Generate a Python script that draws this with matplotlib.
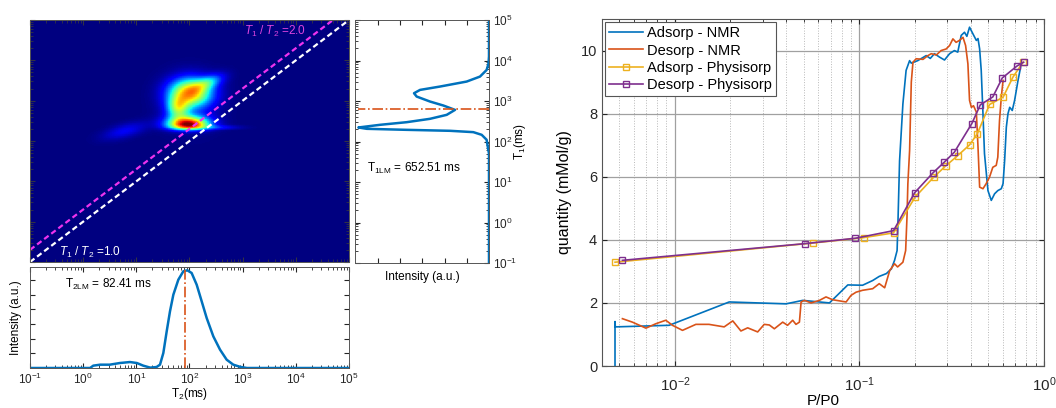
import numpy as np
import matplotlib.pyplot as plt
from matplotlib.ticker import LogLocator, NullFormatter

plt.rcParams['font.family'] = ['Liberation Sans', 'DejaVu Sans']
plt.rcParams['mathtext.fontset'] = 'custom'
plt.rcParams['mathtext.rm'] = 'Liberation Sans'
plt.rcParams['mathtext.it'] = 'Liberation Sans:italic'
plt.rcParams['mathtext.bf'] = 'Liberation Sans:bold'
plt.rcParams['xtick.direction'] = 'in'
plt.rcParams['ytick.direction'] = 'in'

blue = '#0072BD'
orange = '#D95319'
yellow = '#EDB120'
purple = '#7E2F8E'
dark = '#262626'

# T2 projection (log10 T2 in ms, normalised intensity)
t2_log = [-1.0, 0.13, 0.19, 0.32, 0.50, 0.69, 0.88, 1.01, 1.13, 1.26, 1.38, 1.445,
          1.508, 1.571, 1.633, 1.696, 1.79, 1.884, 1.959, 2.04, 2.135, 2.229, 2.323,
          2.448, 2.574, 2.699, 2.824, 2.95, 3.08, 5.0]
t2_int = [0, 0, 0.024, 0.034, 0.034, 0.051, 0.061, 0.051, 0.024, 0.004, 0.01, 0.034,
          0.154, 0.375, 0.58, 0.75, 0.904, 0.99, 1.0, 0.973, 0.853, 0.683, 0.512,
          0.324, 0.188, 0.085, 0.034, 0.012, 0, 0]
t2_lm = 82.41

# T1 projection (log10 T1 in ms, normalised intensity)
t1_log = [-1.0, 1.70, 1.88, 2.042, 2.165, 2.231, 2.264, 2.288, 2.313, 2.346, 2.412,
          2.477, 2.560, 2.658, 2.781, 2.888, 2.987, 3.110, 3.192, 3.274, 3.357, 3.480,
          3.603, 3.767, 3.92, 4.10, 5.0]
t1_int = [0, 0, 0.01, 0.018, 0.056, 0.12, 0.298, 0.63, 0.936, 1.0, 0.834,
          0.63, 0.452, 0.324, 0.26, 0.349, 0.452, 0.554, 0.574, 0.528, 0.375, 0.171,
          0.069, 0.018, 0.004, 0, 0]
t1_lm = 652.51

# T1-T2 map peaks (log10 T2, log10 T1, widths, amplitude, tilt)
pk_t2 = [1.98, 2.02, 2.35, 1.78, 2.50, 0.78, 2.0]
pk_t1 = [2.40, 3.20, 3.45, 2.82, 2.33, 2.25, 2.9]
pk_sx = [0.26, 0.27, 0.20, 0.14, 0.30, 0.28, 0.35]
pk_sy_lo = [0.08, 0.24, 0.12, 0.20, 0.03, 0.12, 0.40]
pk_sy_hi = [0.14, 0.24, 0.12, 0.20, 0.04, 0.12, 0.45]
pk_amp = [1.0, 0.70, 0.28, 0.45, 0.12, 0.11, 0.09]
pk_tilt = [0.0, 0.0, 0.4, 0.0, 0.0, 0.3, 0.0]

# isotherms
ads_nmr_x = [0.00474, 0.00474, 0.00476, 0.00931, 0.0197, 0.0400, 0.0493, 0.0688, 0.0865,
             0.104, 0.118, 0.128, 0.140, 0.149, 0.155, 0.160, 0.162, 0.165, 0.172, 0.179,
             0.187, 0.191, 0.207, 0.230, 0.242, 0.255, 0.272, 0.289, 0.308, 0.327, 0.341,
             0.348, 0.356, 0.371, 0.382, 0.395, 0.412, 0.430, 0.439, 0.448, 0.457, 0.467,
             0.476, 0.497, 0.518, 0.540, 0.562, 0.587, 0.600, 0.612, 0.625, 0.638, 0.652,
             0.673, 0.693, 0.723, 0.753]
ads_nmr_y = [0, 1.41, 1.24, 1.29, 2.03, 1.97, 2.08, 2.0, 2.57, 2.56, 2.71, 2.84, 2.93,
             3.08, 3.35, 3.66, 4.72, 6.5, 8.31, 9.37, 9.68, 9.6, 9.68, 9.84, 9.75, 9.9,
             9.79, 9.7, 9.9, 10.0, 9.95, 10.2, 10.48, 10.58, 10.45, 10.74, 10.53, 10.32,
             10.38, 10.05, 9.37, 8.0, 6.73, 5.56, 5.25, 5.46, 5.56, 5.62, 5.78, 6.52, 7.57,
             8.0, 8.2, 8.1, 8.42, 9.05, 9.58]
des_nmr_x = [0.0052, 0.00589, 0.00697, 0.00789, 0.00893, 0.00971, 0.0110, 0.0130, 0.0153,
             0.0185, 0.0206, 0.0228, 0.0248, 0.0281, 0.0305, 0.0325, 0.0346, 0.0384,
             0.0408, 0.0435, 0.0453, 0.0473, 0.0483, 0.0504, 0.0547, 0.0607, 0.0659,
             0.0716, 0.0847, 0.0901, 0.0959, 0.104, 0.118, 0.128, 0.137, 0.146, 0.155,
             0.161, 0.172, 0.178, 0.181, 0.183, 0.187, 0.191, 0.195, 0.203, 0.221, 0.235,
             0.245, 0.261, 0.277, 0.295, 0.308, 0.321, 0.334, 0.348, 0.364, 0.376, 0.387,
             0.395, 0.404, 0.415, 0.430, 0.439, 0.448, 0.467, 0.486, 0.507, 0.528, 0.551,
             0.562, 0.574, 0.587, 0.600]
des_nmr_y = [1.50, 1.39, 1.20, 1.34, 1.45, 1.29, 1.13, 1.32, 1.32, 1.24, 1.43, 1.11, 1.21,
             1.08, 1.32, 1.30, 1.18, 1.39, 1.29, 1.45, 1.32, 1.39, 2.03, 2.08, 2.0, 2.08,
             2.19, 2.10, 2.03, 2.24, 2.34, 2.40, 2.45, 2.61, 2.48, 3.03, 3.24, 3.14, 3.29,
             3.66, 4.72, 5.78, 6.83, 9.0, 9.63, 9.74, 9.72, 9.84, 9.9, 9.86, 10.0, 10.05,
             10.16, 10.37, 10.26, 10.32, 10.42, 10.16, 9.58, 8.42, 8.2, 8.25, 8.05, 6.94,
             5.67, 5.62, 5.78, 5.99, 6.3, 6.36, 6.62, 7.77, 8.52, 9.05]
ads_phys_x = [0.00474, 0.0563, 0.1057, 0.153, 0.200, 0.253, 0.293, 0.341, 0.395, 0.435,
              0.507, 0.600, 0.679, 0.770]
ads_phys_y = [3.29, 3.90, 4.07, 4.22, 5.35, 5.99, 6.34, 6.67, 7.01, 7.36, 8.29, 8.52,
              9.16, 9.63]
des_phys_x = [0.0052, 0.0509, 0.0951, 0.153, 0.199, 0.250, 0.288, 0.327, 0.406, 0.452,
              0.528, 0.594, 0.714, 0.776]
des_phys_y = [3.35, 3.88, 4.05, 4.29, 5.49, 6.12, 6.46, 6.78, 7.68, 8.28, 8.53, 9.13,
              9.51, 9.63]

W, H = 1056, 408
fig = plt.figure(figsize=(W / 100, H / 100), dpi=100)


def box(l, t, r, b):
    return [l / W, (H - b) / H, (r - l) / W, (b - t) / H]


ax_map = fig.add_axes(box(30, 20, 349, 262))
ax_t1 = fig.add_axes(box(355, 20, 489, 263))
ax_t2 = fig.add_axes(box(30, 267, 349, 368))
ax = fig.add_axes(box(602, 19, 1044, 366))

# ---- 2D map
gx = np.linspace(-1, 5, 480)
gy = np.linspace(-1, 5, 360)
X, Y = np.meshgrid(gx, gy)
Z = np.zeros_like(X)
for xc, yc, sx, slo, shi, a, k in zip(pk_t2, pk_t1, pk_sx, pk_sy_lo, pk_sy_hi, pk_amp, pk_tilt):
    dy = Y - yc - k * (X - xc)
    sy = np.where(dy < 0, slo, shi)
    Z += a * np.exp(-0.5 * ((X - xc) / sx) ** 2 - 0.5 * (dy / sy) ** 2)
ax_map.pcolormesh(10 ** gx, 10 ** gy, Z, cmap='jet', vmin=0, vmax=Z.max() * 0.97,
                  shading='auto', rasterized=True)
ax_map.set_xscale('log')
ax_map.set_yscale('log')
ax_map.set_xlim(0.1, 1e5)
ax_map.set_ylim(0.1, 1e5)
line_t = np.array([0.1, 1e5])
ax_map.plot(line_t, line_t, color='white', lw=1.6, dashes=(2.5, 1.5))
ax_map.plot(line_t, 2 * line_t, color='#ee33ee', lw=1.6, dashes=(2.5, 1.5))
ax_map.text(0.672, 0.985, r'$T_1$ / $T_2$ =2.0', transform=ax_map.transAxes,
            color='#dd44dd', fontsize=8.5, va='top', ha='left')
ax_map.text(0.09, 0.01, r'$T_1$ / $T_2$ =1.0', transform=ax_map.transAxes,
            color='white', fontsize=8.5, va='bottom', ha='left')
ax_map.tick_params(which='both', labelbottom=False, labelleft=False, top=True,
                   right=True, colors='#334')

# ---- T2 projection
t2 = 10 ** np.array(t2_log)
ax_t2.plot(t2, t2_int, color=blue, lw=1.8)
ax_t2.plot([t2_lm, t2_lm], [0, 1.0], color=orange, lw=1.2, ls='-.')
ax_t2.set_xscale('log')
ax_t2.set_xlim(0.1, 1e5)
ax_t2.set_ylim(0, 1.034)
ax_t2.set_yticks([0.15, 0.30, 0.45, 0.60, 0.75, 0.90])
ax_t2.set_yticklabels([])
ax_t2.set_xticks([1e-1, 1e0, 1e1, 1e2, 1e3, 1e4, 1e5])
ax_t2.tick_params(which='both', top=True, right=True, labelsize=8.5, colors=dark, pad=3)
ax_t2.set_ylabel('Intensity (a.u.)', fontsize=8.5, labelpad=3)
ax_t2.set_xlabel(r'T$_2$(ms)', fontsize=8.5, labelpad=-1)
ax_t2.text(0.11, 0.83, r'T$_{\mathrm{2LM}}$ = 82.41 ms', transform=ax_t2.transAxes,
           fontsize=8.5, va='center')

# ---- T1 projection
t1 = 10 ** np.array(t1_log)
ax_t1.plot(t1_int, t1, color=blue, lw=1.8)
ax_t1.plot([0, 1.0], [t1_lm, t1_lm], color=orange, lw=1.2, ls='-.')
ax_t1.set_yscale('log')
ax_t1.set_ylim(0.1, 1e5)
ax_t1.set_xlim(1.026, 0)
ax_t1.set_xticks([0.17, 0.34, 0.51, 0.68, 0.85])
ax_t1.set_xticklabels([])
ax_t1.set_yticks([1e-1, 1e0, 1e1, 1e2, 1e3, 1e4, 1e5])
ax_t1.tick_params(which='both', left=True, right=True, top=True, labelleft=False,
                  labelright=True, labelsize=8.5, colors=dark, pad=3)
ax_t1.yaxis.set_label_position('right')
ax_t1.set_ylabel(r'T$_1$(ms)', fontsize=8.5, labelpad=-4)
ax_t1.set_xlabel('Intensity (a.u.)', fontsize=8.5, labelpad=3)
ax_t1.text(0.09, 0.39, r'T$_{\mathrm{1LM}}$ = 652.51 ms', transform=ax_t1.transAxes,
           fontsize=8.5, va='center')

for a in (ax_map, ax_t1, ax_t2):
    for s in a.spines.values():
        s.set_color('#555555')
        s.set_linewidth(0.7)

# ---- isotherms
ax.plot(ads_nmr_x, ads_nmr_y, color=blue, lw=1.2, label='Adsorp - NMR')
ax.plot(des_nmr_x, des_nmr_y, color=orange, lw=1.2, label='Desorp - NMR')
ax.plot(ads_phys_x, ads_phys_y, color=yellow, lw=1.2, marker='s', ms=5, mfc='none',
        mew=1.0, label='Adsorp - Physisorp')
ax.plot(des_phys_x, des_phys_y, color=purple, lw=1.2, marker='s', ms=5, mfc='none',
        mew=1.0, label='Desorp - Physisorp')
ax.set_xscale('log')
ax.set_xlim(0.00403, 1.0)
ax.set_ylim(0, 11)
ax.set_yticks([0, 2, 4, 6, 8, 10])
ax.xaxis.set_minor_locator(LogLocator(base=10, subs=np.arange(2, 10)))
ax.xaxis.set_minor_formatter(NullFormatter())
ax.grid(True, which='major', color='#a0a0a0', lw=0.9, ls='-')
ax.grid(True, which='minor', axis='x', color='#b8b8b8', lw=0.7, ls=':')
ax.set_axisbelow(True)
ax.tick_params(which='both', top=True, right=True, labelsize=10.5, colors=dark)
ax.tick_params(axis='x', which='major', labelsize=11, pad=7)
for s in ax.spines.values():
    s.set_color('#555555')
    s.set_linewidth(0.8)
ax.set_ylabel('quantity (mMol/g)', fontsize=11.5, labelpad=6)
ax.set_xlabel('P/P0', fontsize=11, labelpad=0)
leg = ax.legend(loc='upper left', fontsize=10.5, fancybox=False, framealpha=1,
                edgecolor='#555555', borderaxespad=0.2, labelspacing=0.22,
                handlelength=2.3, handletextpad=0.3, borderpad=0.3)
leg.get_frame().set_linewidth(0.8)

fig.savefig('out.png', dpi=100)
